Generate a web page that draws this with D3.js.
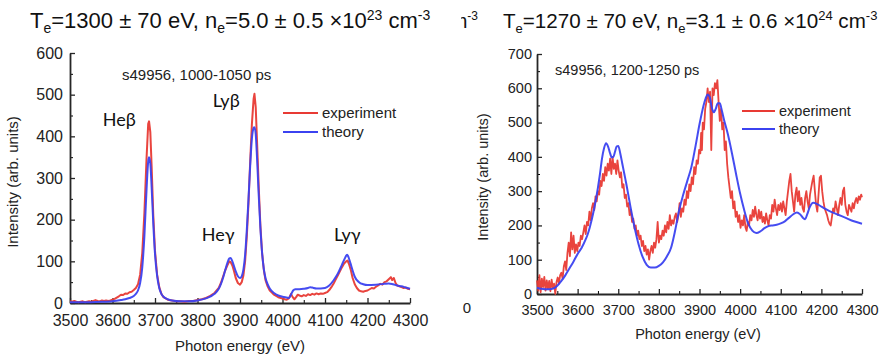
<!DOCTYPE html>
<html><head><meta charset="utf-8">
<script src="https://cdn.jsdelivr.net/npm/d3@7"></script>
<style>
html,body{margin:0;padding:0;background:#fff;}
svg{display:block;font-family:"Liberation Sans",Arial,sans-serif;}
</style></head>
<body>
<svg id="chart" width="885" height="361"></svg>
<script>
// ---------------- DATA ----------------
const xTicks = [3500,3600,3700,3800,3900,4000,4100,4200,4300];
const xMinor = [3550,3650,3750,3850,3950,4050,4150,4250];
const yTicksA = [0,100,200,300,400,500,600];
const yMinorA = [50,150,250,350,450,550];
const yTicksB = [0,100,200,300,400,500,600,700];
const yMinorB = [50,150,250,350,450,550,650];

const titleA = {T:"1300 ± 70 eV", n:"5.0 ± 0.5 ×10", exp:"23"};
const titleB = {T:"1270 ± 70 eV", n:"3.1 ± 0.6 ×10", exp:"24"};
const shotA = "s49956, 1000-1050 ps";
const shotB = "s49956, 1200-1250 ps";
const legendLabels = ["experiment","theory"];
const lineLabelsA = [
  {t:"Heβ", e:3577, v:425},
  {t:"Lyβ", e:3836, v:470},
  {t:"Heγ", e:3810, v:150},
  {t:"Lyγ", e:4121, v:150}
];

// Left panel (1000-1050 ps)
const expA_E = [3500,3505,3510,3515,3520,3525,3530,3535,3540,3545,3550,3555,3560,3565,3570,3575,3580,3585,3590,3595,3600,3605,3610,3615,3620,3625,3630,3635,3640,3645,3650,3655,3660,3665,3670,3675,3680,3684,3686,3689,3692,3696,3700,3705,3710,3715,3720,3730,3740,3750,3760,3770,3780,3790,3800,3810,3820,3830,3840,3850,3855,3860,3865,3870,3875,3878,3882,3886,3890,3895,3900,3904,3908,3912,3916,3920,3924,3928,3932,3934,3937,3940,3944,3948,3952,3956,3960,3965,3970,3975,3980,3990,4000,4005,4010,4015,4020,4024,4028,4032,4036,4040,4045,4050,4055,4060,4065,4070,4075,4080,4085,4090,4095,4100,4105,4110,4115,4120,4125,4130,4135,4140,4145,4150,4153,4157,4161,4165,4170,4175,4180,4185,4190,4195,4200,4205,4210,4215,4220,4225,4230,4235,4240,4245,4250,4255,4258,4262,4266,4270,4275,4280,4285,4290,4295,4300];
const expA_I = [4,3,5,3,2,3,4,2,3,4,3,5,7,5,4,6,5,6,5,6,8,10,13,16,20,19,23,22,26,27,31,36,45,68,120,215,345,430,436,410,330,210,125,68,38,22,14,8,6,4,4,3,5,5,7,9,12,17,24,36,48,63,78,90,100,98,90,76,60,48,44,50,66,100,160,240,340,430,490,502,470,390,280,185,120,80,55,40,30,25,20,14,11,9,8,11,22,14,9,14,20,18,16,19,17,21,19,22,20,23,21,23,22,24,26,31,38,46,56,66,76,86,95,100,102,92,78,60,45,36,30,28,27,29,30,33,36,35,39,42,46,44,50,52,57,62,55,60,48,42,40,38,36,37,34,33];

const thA_E = [3500,3550,3580,3600,3620,3630,3640,3650,3655,3660,3665,3670,3675,3680,3684,3686,3689,3692,3696,3700,3705,3710,3715,3720,3730,3740,3760,3780,3800,3820,3840,3850,3855,3860,3865,3870,3875,3878,3882,3886,3890,3895,3900,3904,3908,3912,3916,3920,3924,3928,3932,3934,3937,3940,3944,3948,3952,3956,3960,3965,3970,3980,3990,4000,4010,4015,4020,4025,4030,4040,4050,4060,4065,4070,4080,4090,4100,4110,4120,4130,4140,4148,4152,4156,4160,4165,4170,4180,4190,4200,4220,4240,4250,4260,4270,4280,4290,4300];
const thA_I = [2,2,3,4,7,9,12,17,22,30,48,85,160,270,340,350,335,280,190,118,65,36,22,15,9,6,4,4,6,11,22,34,45,60,78,95,107,108,100,88,76,64,60,64,80,115,175,250,330,395,420,422,405,350,260,180,120,82,60,45,35,24,18,15,13,12,20,30,33,33,34,36,38,37,35,35,36,42,54,70,92,110,116,108,95,78,63,50,45,43,44,46,47,45,42,40,37,34];

// Right panel (1200-1250 ps)
const expB_E = [3500,3503,3506,3509,3512,3515,3518,3521,3524,3527,3530,3533,3536,3539,3542,3545,3548,3551,3554,3557,3560,3563,3566,3569,3572,3575,3578,3581,3584,3587,3590,3593,3596,3599,3602,3605,3608,3611,3614,3617,3620,3623,3626,3629,3632,3635,3638,3641,3644,3647,3650,3653,3656,3659,3662,3665,3668,3671,3674,3677,3680,3683,3686,3689,3692,3695,3698,3701,3704,3707,3710,3713,3716,3719,3722,3725,3728,3731,3734,3737,3740,3743,3746,3749,3752,3755,3758,3761,3764,3767,3770,3773,3776,3779,3782,3785,3788,3791,3794,3797,3800,3803,3806,3809,3812,3815,3818,3821,3824,3827,3830,3833,3836,3839,3842,3845,3848,3851,3854,3857,3860,3863,3866,3869,3872,3875,3878,3881,3884,3887,3890,3893,3896,3899,3902,3904,3906,3908,3911,3914,3917,3920,3923,3926,3929,3932,3935,3938,3941,3944,3947,3950,3953,3956,3959,3962,3965,3968,3971,3974,3977,3980,3983,3986,3989,3992,3995,3998,4001,4004,4007,4010,4013,4016,4019,4022,4025,4028,4031,4034,4037,4040,4043,4046,4049,4052,4055,4058,4061,4064,4067,4070,4073,4076,4079,4082,4085,4088,4091,4094,4097,4100,4103,4106,4109,4112,4115,4118,4121,4124,4127,4130,4133,4136,4139,4142,4145,4148,4151,4154,4157,4160,4163,4166,4169,4172,4175,4178,4181,4184,4187,4190,4193,4196,4199,4202,4205,4208,4211,4214,4217,4220,4223,4226,4229,4232,4235,4238,4241,4244,4247,4250,4253,4256,4259,4262,4265,4268,4271,4274,4277,4280,4283,4286,4289,4292,4295,4298,4300];
const expB_I = [40,10,55,5,45,20,50,10,40,15,38,8,42,18,30,0,35,48,30,55,62,45,80,95,70,120,150,110,180,130,170,120,145,125,150,140,170,160,180,200,175,210,200,240,215,250,265,245,285,270,300,290,330,315,350,330,370,345,380,360,395,350,400,365,380,350,390,360,340,355,310,320,280,290,255,265,230,245,210,220,190,200,170,185,160,170,140,155,125,140,115,130,100,125,140,120,150,135,160,210,150,170,160,185,170,200,180,210,190,230,200,215,205,225,235,210,230,265,225,250,240,275,260,300,280,320,300,340,320,370,350,390,380,420,410,470,420,500,480,540,560,600,560,590,420,600,580,615,600,624,560,505,540,480,500,420,445,380,340,310,280,300,250,270,225,240,210,230,193,215,200,230,195,184,210,200,230,215,245,225,255,230,215,245,220,240,210,225,205,235,215,200,230,220,260,240,275,250,230,260,245,265,240,270,250,230,270,300,330,350,300,270,240,290,310,270,300,260,280,250,240,280,300,270,250,290,310,330,345,300,260,240,290,340,345,300,270,250,240,230,215,205,200,225,250,240,270,250,230,260,280,260,300,310,260,240,230,260,250,240,265,250,270,280,265,285,275,290,282];

const thB_E = [3500,3510,3520,3530,3540,3550,3560,3570,3580,3590,3600,3610,3620,3625,3630,3640,3650,3655,3660,3665,3670,3675,3680,3684,3688,3692,3696,3700,3705,3710,3715,3720,3730,3740,3750,3760,3770,3780,3790,3800,3810,3820,3830,3840,3850,3860,3870,3880,3890,3900,3910,3915,3920,3925,3930,3935,3940,3945,3950,3955,3960,3970,3980,3990,4000,4010,4020,4030,4040,4050,4060,4070,4080,4090,4100,4110,4120,4130,4140,4148,4155,4160,4165,4172,4180,4190,4200,4210,4220,4240,4260,4280,4300];
const thB_I = [18,15,14,14,16,24,38,55,75,95,117,135,160,175,195,245,310,350,395,425,440,430,410,398,400,415,430,432,410,380,350,320,255,195,145,108,85,77,77,82,92,110,135,185,245,290,330,370,430,495,550,570,582,575,545,530,540,556,556,535,510,465,410,350,293,245,205,185,178,183,192,198,200,202,206,212,222,232,238,232,222,218,232,255,266,262,255,248,242,232,222,212,205];

// ---------------- DRAW ----------------
const RED = "#e83a34", BLUE = "#3b42f0", AXIS = "#262626";
const fmt = d3.format("d");
const svg = d3.select("#chart");
svg.append("rect").attr("width",885).attr("height",361).attr("fill","#fff");
const defs = svg.append("defs");

function drawPanel(cfg){
  const g = svg.append("g");
  const x = d3.scaleLinear().domain([3500,4300]).range(cfg.xr);
  const y = d3.scaleLinear().domain([0,cfg.ymax]).range(cfg.yr);
  const x0 = cfg.xr[0], yb = cfg.yr[0];

  // minor ticks
  g.append("g").attr("transform",`translate(0,${yb})`)
    .call(d3.axisBottom(x).tickValues(xMinor).tickSize(-3).tickFormat("").tickSizeOuter(0))
    .call(s=>s.select(".domain").remove());
  g.append("g").attr("transform",`translate(${x0},0)`)
    .call(d3.axisLeft(y).tickValues(cfg.yMinor).tickSize(-3).tickFormat("").tickSizeOuter(0))
    .call(s=>s.select(".domain").remove());
  // major
  const gx = g.append("g").attr("transform",`translate(0,${yb})`)
    .call(d3.axisBottom(x).tickValues(xTicks).tickFormat(fmt).tickSize(-5).tickPadding(cfg.xpad).tickSizeOuter(0));
  const gy = g.append("g").attr("transform",`translate(${x0},0)`)
    .call(d3.axisLeft(y).tickValues(cfg.yTicks).tickFormat(fmt).tickSize(-5).tickPadding(cfg.ypad).tickSizeOuter(0));
  [gx,gy].forEach(a=>{
    a.selectAll("text").attr("font-size",cfg.tickFs).attr("fill","#222")
      .attr("font-family","Liberation Sans, Arial, sans-serif");
    a.selectAll("line").attr("stroke",AXIS).attr("stroke-width",1.3);
    a.select(".domain").attr("stroke",AXIS).attr("stroke-width",1.8);
  });
  gx.selectAll("text").attr("dy","0.72em");
  gy.selectAll("text").attr("dy",cfg.ydy);

  // series
  const line = d3.line().x(d=>x(d[0])).y(d=>y(d[1]));
  const lineS = d3.line().x(d=>x(d[0])).y(d=>y(d[1])).curve(d3.curveMonotoneX);
  const ed = cfg.expE.map((e,i)=>[e,cfg.expI[i]]);
  const td = cfg.thE.map((e,i)=>[e,cfg.thI[i]]);
  g.append("path").datum(ed).attr("d",line).attr("fill","none")
    .attr("stroke",RED).attr("stroke-width",cfg.redW).attr("stroke-linejoin","round").attr("opacity",0.95);
  g.append("path").datum(td).attr("d",lineS).attr("fill","none")
    .attr("stroke",BLUE).attr("stroke-width",2).attr("stroke-linejoin","round").attr("opacity",0.95);

  // axis titles
  g.append("text").attr("x",cfg.xtX).attr("y",cfg.xtY).attr("text-anchor","middle")
    .attr("font-size",cfg.titleFs).attr("fill","#222").text("Photon energy (eV)");
  g.append("text").attr("transform",`translate(${cfg.ytX},${cfg.ytY}) rotate(-90)`)
    .attr("text-anchor","middle").attr("font-size",cfg.titleFs).attr("fill","#222")
    .text("Intensity (arb. units)");

  // shot label
  g.append("text").attr("x",cfg.shotX).attr("y",cfg.shotY).attr("font-size",cfg.legFs)
    .attr("fill","#222").text(cfg.shot);

  // legend
  const cols=[RED,BLUE];
  legendLabels.forEach((lab,i)=>{
    const yy = cfg.legY + i*cfg.legDy;
    g.append("line").attr("x1",cfg.legX1).attr("x2",cfg.legX2).attr("y1",yy).attr("y2",yy)
      .attr("stroke",cols[i]).attr("stroke-width",2);
    g.append("text").attr("x",cfg.legX2+4).attr("y",yy+5).attr("font-size",cfg.legFs)
      .attr("fill","#222").text(lab);
  });

  // title
  const t = g.append("text").attr("x",cfg.tX).attr("y",28).attr("font-size",cfg.tFs).attr("fill","#111");
  const sub = Math.round(cfg.tFs*0.62);
  t.append("tspan").text("T");
  t.append("tspan").attr("dy",5).attr("font-size",sub).text("e");
  t.append("tspan").attr("dy",-5).text("="+cfg.title.T+", n");
  t.append("tspan").attr("dy",5).attr("font-size",sub).text("e");
  t.append("tspan").attr("dy",-5).text("="+cfg.title.n);
  t.append("tspan").attr("dy",-8).attr("font-size",sub).text(cfg.title.exp);
  t.append("tspan").attr("dy",8).text(" cm");
  t.append("tspan").attr("dy",-8).attr("font-size",sub).text("-3");
  return {x,y,g};
}

const A = drawPanel({xr:[70,410], yr:[303,53], ymax:600, yTicks:yTicksA, yMinor:yMinorA,
  xpad:11, ypad:7, ydy:"0.33em", tickFs:16, titleFs:15, legFs:15,
  expE:expA_E, expI:expA_I, thE:thA_E, thI:thA_I, redW:2,
  xtX:240, xtY:351, ytX:18, ytY:182,
  shot:shotA, shotX:122, shotY:80,
  legX1:283, legX2:318, legY:113, legDy:19,
  title:titleA, tX:30, tFs:22});

const B = drawPanel({xr:[537,862], yr:[294,54], ymax:700, yTicks:yTicksB, yMinor:yMinorB,
  xpad:10.5, ypad:5, ydy:"0.3em", tickFs:14.5, titleFs:14.5, legFs:14.5,
  expE:expB_E, expI:expB_I, thE:thB_E, thI:thB_I, redW:1.8,
  xtX:698, xtY:339, ytX:488, ytY:177,
  shot:shotB, shotX:555, shotY:75,
  legX1:742, legX2:775, legY:111, legDy:18,
  title:titleB, tX:503, tFs:20.6});

// peak labels (left panel)
lineLabelsA.forEach(l=>{
  A.g.append("text").attr("x",A.x(l.e)).attr("y",A.y(l.v))
    .attr("font-family","Lato, 'Noto Sans', sans-serif").attr("font-size",18)
    .attr("fill","#111").text(l.t);
});

// cropping leftovers from the composite figure
defs.append("clipPath").attr("id","cl1").append("rect").attr("x",423).attr("y",90).attr("width",9).attr("height",180);
svg.append("text").attr("clip-path","url(#cl1)")
  .attr("transform","translate(436,182) rotate(-90)").attr("text-anchor","middle")
  .attr("font-size",15).attr("fill","#222").text("Intensity (arb. units)");
defs.append("clipPath").attr("id","cl2").append("rect").attr("x",461).attr("y",0).attr("width",20).attr("height",40);
const tf = svg.append("text").attr("clip-path","url(#cl2)").attr("x",478).attr("y",28)
  .attr("text-anchor","end").attr("font-size",20).attr("fill","#111");
tf.append("tspan").text("cm");
tf.append("tspan").attr("dy",-8).attr("font-size",12).text("-3");
svg.append("text").attr("x",467).attr("y",313).attr("text-anchor","middle")
  .attr("font-size",15).attr("fill","#222").text("0");
</script>
</body></html>
